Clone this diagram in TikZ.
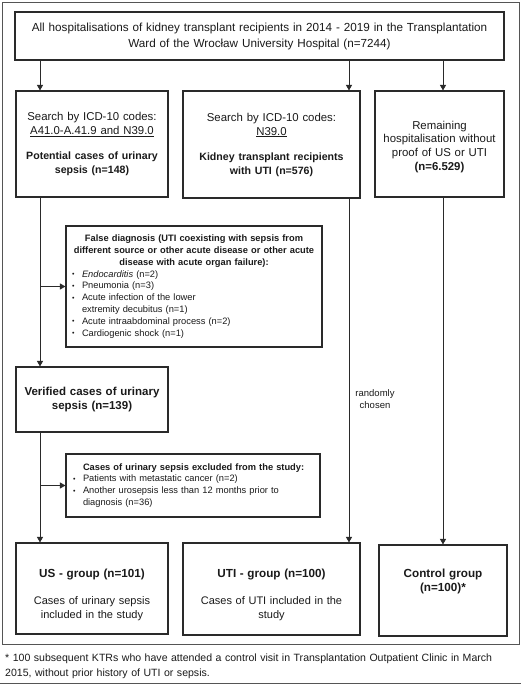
\documentclass[tikz,border=0pt]{standalone}
\usepackage{fontspec}
\setmainfont{Liberation Sans}
\usetikzlibrary{arrows.meta}
\definecolor{boxc}{HTML}{2A2A2A}
\definecolor{framec}{HTML}{555555}
\definecolor{txt}{HTML}{1A1A1A}
\newcommand{\bitem}[1]{\par\noindent\hangindent=10pt\hangafter=1\makebox[10pt][l]{\raisebox{0.5pt}{\scriptsize\textbullet}}#1}
\begin{document}
\begin{tikzpicture}[x=1pt,y=-1pt,
  box/.style={draw=boxc,line width=1.1pt,inner sep=0pt,text=txt,align=center},
  arr/.style={draw=boxc,line width=0.9pt,-{Triangle[length=5.5pt,width=6pt]}},
  lbl/.style={inner sep=0pt,text=txt,align=center},
  reg/.style={font=\fontsize{11.4}{14}\selectfont},
]
\useasboundingbox (0,0) rectangle (521,685);
\fill[white] (0,0) rectangle (521,685);
\draw[framec,line width=0.9pt] (2,2) rectangle (519,644);
\draw[framec,line width=0.9pt] (0,683.5) -- (521,683.5);

\coordinate (c1) at (40,0);
\coordinate (c2) at (349,0);
\coordinate (c3) at (443,0);

% top box
\node[box,minimum width=489pt,minimum height=48pt,text width=484pt,
  font=\fontsize{11.7}{16}\selectfont] (top) at (259.5,36)
  {All hospitalisations of kidney transplant recipients in 2014 - 2019 in the Transplantation\\ Ward of the Wroc\l{}aw University Hospital (n=7244)};

% second row
\node[box,reg,minimum width=152pt,minimum height=106pt,text width=148pt] (b1) at (92,144)
  {Search by ICD-10 codes:\\ \underline{A41.0-A.41.9 and N39.0}\\[11pt]
   {\fontsize{10.6}{14}\selectfont\bfseries Potential cases of urinary\\ sepsis (n=148)}};
\node[box,reg,minimum width=177pt,minimum height=107pt,text width=172pt] (b2) at (271.5,144.5)
  {Search by ICD-10 codes:\\ \underline{N39.0}\\[11pt]
   {\fontsize{10.6}{14}\selectfont\bfseries Kidney transplant recipients\\ with UTI (n=576)}};
\node[box,minimum width=129pt,minimum height=106pt] (b3) at (439.5,144) {};
\node[lbl,font=\fontsize{11.4}{13.8}\selectfont,text width=126pt,anchor=base] (b3t) at (439.5,129)
  {Remaining\\ hospitalisation without\\ proof of US or UTI\\ \textbf{(n=6.529)}};

% false diagnosis box
\node[box,minimum width=256pt,minimum height=121pt,text width=244pt,align=left,
  font=\fontsize{9.3}{11.8}\selectfont] (fd) at (194,286.5)
  {{\centering\bfseries False diagnosis (UTI coexisting with sepsis from\\ different source or other acute disease or other acute\\ disease with acute organ failure):\par}
   \bitem{\textit{Endocarditis} (n=2)}
   \bitem{Pneumonia (n=3)}
   \bitem{Acute infection of the lower\newline extremity decubitus (n=1)}
   \bitem{Acute intraabdominal process (n=2)}
   \bitem{Cardiogenic shock (n=1)}\par};

% verified
\node[box,minimum width=152pt,minimum height=65pt,text width=148pt,
  font=\fontsize{11.5}{13.5}\selectfont\bfseries] (ver) at (92,399.5)
  {Verified cases of urinary\\ sepsis (n=139)};

% excluded
\node[box,minimum width=254pt,minimum height=63pt,text width=240pt,align=left,
  font=\fontsize{9.3}{11.9}\selectfont] (ex) at (193,485.5)
  {\hspace*{10pt}\textbf{Cases of urinary sepsis excluded from the study:}
   \bitem{Patients with metastatic cancer (n=2)}
   \bitem{Another urosepsis less than 12 months prior to\newline diagnosis (n=36)}\par};

% bottom boxes
\node[box,minimum width=152pt,minimum height=91pt] (us) at (92,588.5) {};
\node[box,minimum width=177pt,minimum height=92pt] (uti) at (271.5,589) {};
\node[box,minimum width=128pt,minimum height=91pt] (ctl) at (443,590.5) {};

\node[lbl,font=\fontsize{11}{14}\selectfont,text width=146pt,anchor=base] (ust) at (92,577)
  {{\fontsize{11.7}{14}\selectfont\bfseries US - group (n=101)}\\[13pt]
   Cases of urinary sepsis\\ included in the study};
\node[lbl,font=\fontsize{11}{14}\selectfont,text width=172pt,anchor=base] (utit) at (271.5,577)
  {{\fontsize{11.7}{14}\selectfont\bfseries UTI - group (n=100)}\\[13pt]
   Cases of UTI included in the\\ study};
\node[lbl,text width=124pt,anchor=base,font=\fontsize{11.7}{14}\selectfont\bfseries] (ctlt) at (443,577)
  {Control group\\ (n=100)*};

% label
\node[lbl,font=\fontsize{9.5}{12}\selectfont] (rc) at (375,399) {randomly\\ chosen};

% footnote
\node[lbl,align=left,anchor=base west,text width=515pt,font=\fontsize{10.55}{14.5}\selectfont] (fn) at (5,661.5)
  {* 100 subsequent KTRs who have attended a control visit in Transplantation Outpatient Clinic in March\\ 2015, without prior history of UTI or sepsis.};

% connectors
\draw[arr] (top.south -| c1) -- (b1.north -| c1);
\draw[arr] (top.south -| c2) -- (b2.north -| c2);
\draw[arr] (top.south -| c3) -- (b3.north -| c3);
\draw[arr] (b1.south -| c1) -- (ver.north -| c1);
\draw[arr] (fd.west -| c1) -- (fd.west);
\draw[arr] (ver.south -| c1) -- (us.north -| c1);
\draw[arr] (ex.west -| c1) -- (ex.west);
\draw[arr] (b2.south -| c2) -- (uti.north -| c2);
\draw[arr] (b3.south -| c3) -- (ctl.north -| c3);
\end{tikzpicture}
\end{document}
